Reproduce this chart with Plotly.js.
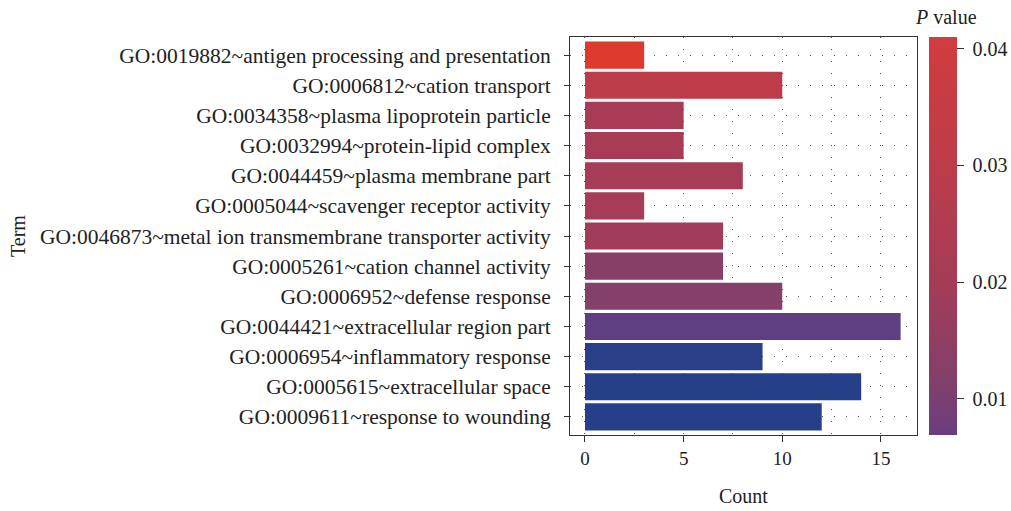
<!DOCTYPE html>
<html>
<head>
<meta charset="utf-8">
<script src="https://cdn.plot.ly/plotly-3.0.1.min.js"></script>
<style>html,body{margin:0;padding:0;background:#fff;}#chart{width:1011px;height:511px;}</style>
</head>
<body>
<div id="chart"></div>
<script>
// ---- data ----
var terms = [
  "GO:0019882~antigen processing and presentation",
  "GO:0006812~cation transport",
  "GO:0034358~plasma lipoprotein particle",
  "GO:0032994~protein-lipid complex",
  "GO:0044459~plasma membrane part",
  "GO:0005044~scavenger receptor activity",
  "GO:0046873~metal ion transmembrane transporter activity",
  "GO:0005261~cation channel activity",
  "GO:0006952~defense response",
  "GO:0044421~extracellular region part",
  "GO:0006954~inflammatory response",
  "GO:0005615~extracellular space",
  "GO:0009611~response to wounding"
];
var counts = [3, 10, 5, 5, 8, 3, 7, 7, 10, 16, 9, 14, 12];
var pvalues = [0.0445, 0.031, 0.0215, 0.0215, 0.021, 0.0205, 0.0195, 0.0125, 0.0118, 0.0052, 0.0004, 0.0002, 0.0002];
var xTickVals = [0, 5, 10, 15];
var cbTickVals = [0.01, 0.02, 0.03, 0.04];
var cbMin = 0.0069, cbMax = 0.041;

// ---- colour scale (value -> colour) ----
var scaleMax = 0.045;
var stops = [
  [0.0,    [36, 63, 137]],
  [0.005,  [94, 63, 130]],
  [0.007,  [106, 61, 127]],
  [0.012,  [133, 63, 105]],
  [0.02,   [165, 60, 88]],
  [0.03,   [188, 60, 75]],
  [0.041,  [210, 60, 62]],
  [0.045,  [222, 58, 44]]
];
function colorAt(v) {
  if (v <= stops[0][0]) return stops[0][1];
  for (var i = 1; i < stops.length; i++) {
    if (v <= stops[i][0]) {
      var a = stops[i-1], b = stops[i];
      var t = (v - a[0]) / (b[0] - a[0]);
      return [0,1,2].map(function(k){ return Math.round(a[1][k] + t*(b[1][k]-a[1][k])); });
    }
  }
  return stops[stops.length-1][1];
}
function rgb(c){ return 'rgb(' + c.join(',') + ')'; }
var fullScale = stops.map(function(s){ return [s[0]/scaleMax, rgb(s[1])]; });
var subScale = [];
for (var i = 0; i <= 20; i++) {
  var v = cbMin + (cbMax - cbMin) * i / 20;
  subScale.push([i/20, rgb(colorAt(v))]);
}

var fontFam = "'Liberation Serif', 'DejaVu Serif', serif";
var txtCol = '#222';
var gridCol = '#555';

var bars = {
  type: 'bar',
  orientation: 'h',
  x: counts,
  y: terms,
  marker: {color: pvalues, colorscale: fullScale, cmin: 0, cmax: scaleMax, showscale: false, line: {width: 0}},
  width: 0.9,
  hoverinfo: 'x+y'
};
var cbTrace = {
  type: 'scatter',
  mode: 'markers',
  x: [counts[0], counts[0]],
  y: [terms[0], terms[0]],
  marker: {
    size: 0.1, opacity: 0,
    color: [cbMin, cbMax], cmin: cbMin, cmax: cbMax, colorscale: subScale, showscale: true,
    colorbar: {
      x: 1.0346, xanchor: 'left', xref: 'paper',
      y: 0.5, yanchor: 'middle', len: 1, lenmode: 'fraction',
      thickness: 28, outlinewidth: 0, xpad: 0, ypad: 0,
      ticks: 'outside', ticklen: 7, tickwidth: 1, tickcolor: '#333',
      tickvals: cbTickVals, ticktext: cbTickVals.map(function(v){return '\u00a0' + v.toFixed(2);}),
      tickfont: {family: fontFam, size: 20, color: txtCol},
      title: {text: ''}
    }
  },
  hoverinfo: 'skip',
  showlegend: false
};

var layout = {
  width: 1011, height: 511,
  margin: {l: 570, r: 94, t: 37, b: 76, pad: 0, autoexpand: false},
  paper_bgcolor: '#fff', plot_bgcolor: '#fff',
  font: {family: fontFam, size: 20, color: txtCol},
  showlegend: false,
  xaxis: {
    range: [-0.76, 16.83],
    tickvals: xTickVals,
    ticks: 'outside', ticklen: 6, tickwidth: 1, tickcolor: '#333',
    showline: true, mirror: true, linecolor: '#333', linewidth: 1,
    showgrid: true, gridcolor: gridCol, gridwidth: 1, griddash: '1px,11px',
    minor: {dtick: 2.5, tick0: 0, showgrid: true, gridcolor: gridCol, gridwidth: 1, griddash: '1px,11px'},
    zeroline: false,
    tickfont: {family: fontFam, size: 19, color: txtCol}
  },
  yaxis: {
    type: 'category',
    categoryorder: 'array', categoryarray: terms,
    range: [12.6, -0.6],
    ticks: 'outside', ticklen: 5, tickwidth: 1, tickcolor: '#333',
    ticklabelstandoff: 9,
    showline: true, mirror: true, linecolor: '#333', linewidth: 1,
    showgrid: true, gridcolor: gridCol, gridwidth: 1, griddash: '1px,11px',
    zeroline: false,
    tickfont: {family: fontFam, size: 21.5, color: txtCol}
  },
  annotations: [
    {text: 'Count', xref: 'paper', yref: 'paper', x: (743-570)/347, y: -(496-435)/398, xanchor: 'center', yanchor: 'middle', showarrow: false, font: {family: fontFam, size: 20, color: txtCol}},
    {text: 'Term', xref: 'paper', yref: 'paper', x: -(570-18)/347, y: (435-236)/398, xanchor: 'center', yanchor: 'middle', textangle: -90, showarrow: false, font: {family: fontFam, size: 20, color: txtCol}},
    {text: '<i>P</i> value', xref: 'paper', yref: 'paper', x: (946-570)/347, y: (435-17)/398, xanchor: 'center', yanchor: 'middle', showarrow: false, font: {family: fontFam, size: 20, color: txtCol}}
  ]
};

Plotly.newPlot('chart', [bars, cbTrace], layout, {displayModeBar: false, staticPlot: true});
</script>
</body>
</html>
